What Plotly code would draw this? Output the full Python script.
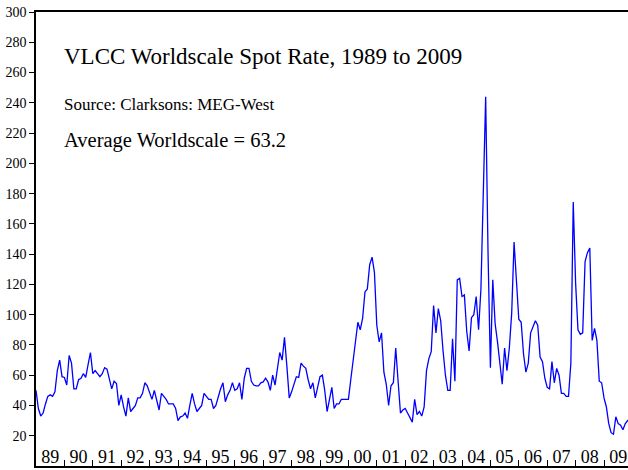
import plotly.graph_objects as go

# ---- data ----
start_year = 1989
spot_rate = [
    # 1989
    50, 38, 33, 35, 41, 46, 47, 46, 49, 63, 70, 59,
    # 1990
    58.5, 53.5, 73, 68, 51, 51, 57, 58, 61, 58.5, 67, 75,
    # 1991
    61, 63, 61, 59, 61, 65, 64, 57, 51, 56, 54.5, 40,
    # 1992
    47, 39, 33, 45, 36, 38, 40, 45, 45, 48, 55, 53,
    # 1993
    48, 44, 50, 44, 37, 48, 46, 44, 41, 41, 41, 38,
    # 1994
    30, 32.5, 33, 35, 31.5, 40, 48, 41, 36, 38, 40, 48,
    # 1995
    46, 44, 44, 38, 40, 46, 51, 55, 42.5, 47, 50, 55,
    # 1996
    50, 51, 55, 44, 58, 64.5, 64.5, 56, 53.5, 53, 53, 55,
    # 1997
    55.6, 58, 55.6, 50, 60, 53.5, 63, 75, 70, 85, 66, 45,
    # 1998
    49, 53.5, 59, 58.5, 68, 66, 64.5, 57, 51, 55, 45, 52,
    # 1999
    59, 60, 50, 36, 44, 52, 38, 41, 41, 44, 44, 44,
    # 2000
    44, 57, 70, 84, 95, 90, 97.5, 115, 117, 133, 138, 128,
    # 2001
    93, 82, 88, 62, 54, 40, 53, 55, 78, 56, 35, 37,
    # 2002
    38, 35, 31.5, 29, 44, 34, 36, 33, 39, 63, 71, 75.5,
    # 2003
    106, 88, 104, 96, 76, 60, 50, 50, 84, 56, 123, 124,
    # 2004
    112, 113, 89, 76, 98, 100, 112, 90, 117, 183, 244, 141,
    # 2005
    65, 123, 94, 82, 68, 54, 78, 63, 78, 101, 148, 120,
    # 2006
    97, 95, 74, 62, 68, 88, 92, 96, 93, 72, 69, 58,
    # 2007
    52, 51, 69, 55, 64.5, 60, 48, 48, 46, 46, 68, 174.5,
    # 2008
    121, 90, 87, 88, 135, 141, 144, 83, 91, 83, 56, 55,
    # 2009
    45, 39, 28, 22, 21, 32.5, 28, 27, 24, 28, 30, 31,
]
year_labels = ["89", "90", "91", "92", "93", "94", "95", "96", "97", "98", "99",
               "00", "01", "02", "03", "04", "05", "06", "07", "08", "09"]
y_ticks = list(range(0, 301, 20))

title_text = "VLCC Worldscale Spot Rate, 1989 to 2009"
source_text = "Source: Clarksons: MEG-West"
average_text = "Average Worldscale = 63.2"

# ---- derived ----
x_vals = [start_year + i / 12 for i in range(len(spot_rate))]
label_pos = [start_year + k + 0.5 for k in range(len(year_labels))]
boundary_pos = [start_year + k for k in range(1, len(year_labels))]

FONT = "Liberation Serif"

fig = go.Figure()
fig.add_trace(go.Scatter(
    x=x_vals, y=spot_rate, mode="lines",
    line=dict(color="#0000ff", width=1.3),
    showlegend=False, hoverinfo="skip",
))

fig.update_layout(
    width=628, height=470,
    margin=dict(l=36, r=0, t=12, b=4, autoexpand=False),
    paper_bgcolor="white", plot_bgcolor="white",
    font=dict(family=FONT, color="black"),
    showlegend=False,
)

fig.update_xaxes(
    range=[start_year, start_year + 20.845],
    automargin=False,
    tickmode="array", tickvals=label_pos, ticktext=year_labels,
    ticks="", ticklabelposition="inside",
    tickfont=dict(family=FONT, size=18, color="black"),
    ticklabelstandoff=0,
    minor=dict(tickmode="array", tickvals=boundary_pos, ticks="inside",
               ticklen=6, tickwidth=1.3, tickcolor="black", showgrid=False),
    showline=True, linecolor="black", linewidth=1.6, mirror=True,
    showgrid=False, zeroline=False,
)

fig.update_yaxes(
    range=[0, 300],
    automargin=False,
    tickmode="array", tickvals=y_ticks,
    ticks="outside", ticklen=5, tickwidth=1.3, tickcolor="black",
    tickfont=dict(family=FONT, size=14, color="black"),
    showline=True, linecolor="black", linewidth=1.6,
    showgrid=False, zeroline=False,
)

fig.add_annotation(text=title_text, xref="paper", yref="paper",
                   x=0.044, y=0.901, xanchor="left", yanchor="middle",
                   showarrow=False, font=dict(family=FONT, size=23, color="black"))
fig.add_annotation(text=source_text, xref="paper", yref="paper",
                   x=0.044, y=0.797, xanchor="left", yanchor="middle",
                   showarrow=False, font=dict(family=FONT, size=17, color="black"))
fig.add_annotation(text=average_text, xref="paper", yref="paper",
                   x=0.044, y=0.718, xanchor="left", yanchor="middle",
                   showarrow=False, font=dict(family=FONT, size=20.5, color="black"))

fig.write_html(
    "out.html",
    config={"responsive": False, "displayModeBar": False},
    post_script="document.body.style.margin='0px';document.body.style.padding='0px';document.body.style.overflow='hidden';",
)
